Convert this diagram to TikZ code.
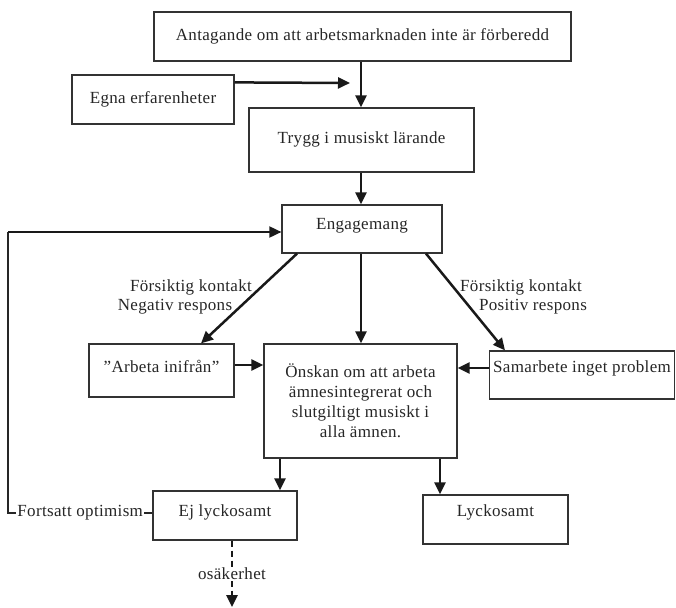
\documentclass[tikz,border=0pt]{standalone}
\usepackage{fontspec}
\setmainfont{Liberation Serif}[LetterSpace=2]
\usetikzlibrary{arrows.meta,calc}
\begin{document}
\begin{tikzpicture}[x=1pt,y=-1pt,
  every node/.style={font=\fontsize{17}{20}\selectfont, text=black!85},
  box/.style={draw=black!80, line width=1.2pt, inner sep=0pt, align=center},
  tbox/.style={box, text height=12pt, text depth=#1},
  tbox/.default=4pt,
  arr/.style={line width=2.5pt, draw=black!90, -{Triangle[length=12pt,width=11pt]}},
  thinline/.style={line width=1.3pt, draw=black!85},
  lbl/.style={inner sep=1pt, align=center}
]
\useasboundingbox (0,0) rectangle (676,607);

% boxes
\node[tbox=4pt, minimum width=417pt, minimum height=49pt] (ant) at (362.5,36.5) {Antagande om att arbetsmarknaden inte är förberedd};
\node[tbox=4pt, minimum width=162pt, minimum height=49pt] (egna) at (153,99.5) {Egna erfarenheter};
\node[tbox=6pt, minimum width=225pt, minimum height=64pt] (trygg) at (361.5,140) {Trygg i musiskt lärande};
\node[tbox=11pt, minimum width=160pt, minimum height=48pt] (eng) at (362,229) {Engagemang};
\node[tbox=9pt, minimum width=145pt, minimum height=53pt] (arb) at (161.5,370.5) {”Arbeta inifrån”};
\node[box, minimum width=193pt, minimum height=114pt] (onsk) at (360.5,401) {Önskan om att arbeta\\ämnesintegrerat och\\slutgiltigt musiskt i\\alla ämnen.};
\node[tbox=17pt, minimum width=185pt, minimum height=48pt] (sam) at (582,375) {Samarbete inget problem};
\node[tbox=10pt, minimum width=144pt, minimum height=49pt] (ej) at (225,515.5) {Ej lyckosamt};
\node[tbox=18pt, minimum width=145pt, minimum height=49pt] (lyck) at (495.5,519.5) {Lyckosamt};

% free ends / corners
\coordinate (egnaend) at (350,83);
\coordinate (fbcorner) at (8,232);
\coordinate (osend) at (232,607);

% arrows
\draw[arr] (ant.south -| 361,0) -- (trygg.north -| 361,0);
\draw[arr] ($(egna.north east)+(0,8)$) -- (egnaend);
\draw[arr] (trygg.south -| 361,0) -- (eng.north -| 361,0);
\draw[arr] (eng.south -| 297,0) -- (arb.north -| 201,0);
\draw[arr] (eng.south -| 361,0) -- (onsk.north -| 361,0);
\draw[arr] (eng.south -| 426,0) -- (sam.north -| 505,0);
\draw[arr] (arb.east |- 0,365) -- (onsk.west |- 0,365);
\draw[arr] (sam.west |- 0,368) -- (onsk.east |- 0,368);
\draw[arr] (onsk.south -| 280,0) -- (ej.north -| 280,0);
\draw[arr] (onsk.south -| 440,0) -- (lyck.north -| 440,0);
\draw[arr, dash pattern=on 6pt off 4pt] (ej.south -| 232,0) -- node[lbl, fill=white, pos=0.5] (osak) {osäkerhet} (osend);

% feedback loop
\draw[thinline] (ej.west |- 0,513) -- node[lbl, fill=white, pos=0.5] (fort) {Fortsatt optimism} (8,513) -- (fbcorner);
\draw[arr, line width=1.8pt] (fbcorner) -- (eng.west |- 0,232);

% diagonal labels
\node[lbl] (fk1) at (191,287) {Försiktig kontakt};
\node[lbl] (neg) at (175,307) {Negativ respons};
\node[lbl] (fk2) at (521,287) {Försiktig kontakt};
\node[lbl] (pos) at (533,307) {Positiv respons};
\end{tikzpicture}
\end{document}
